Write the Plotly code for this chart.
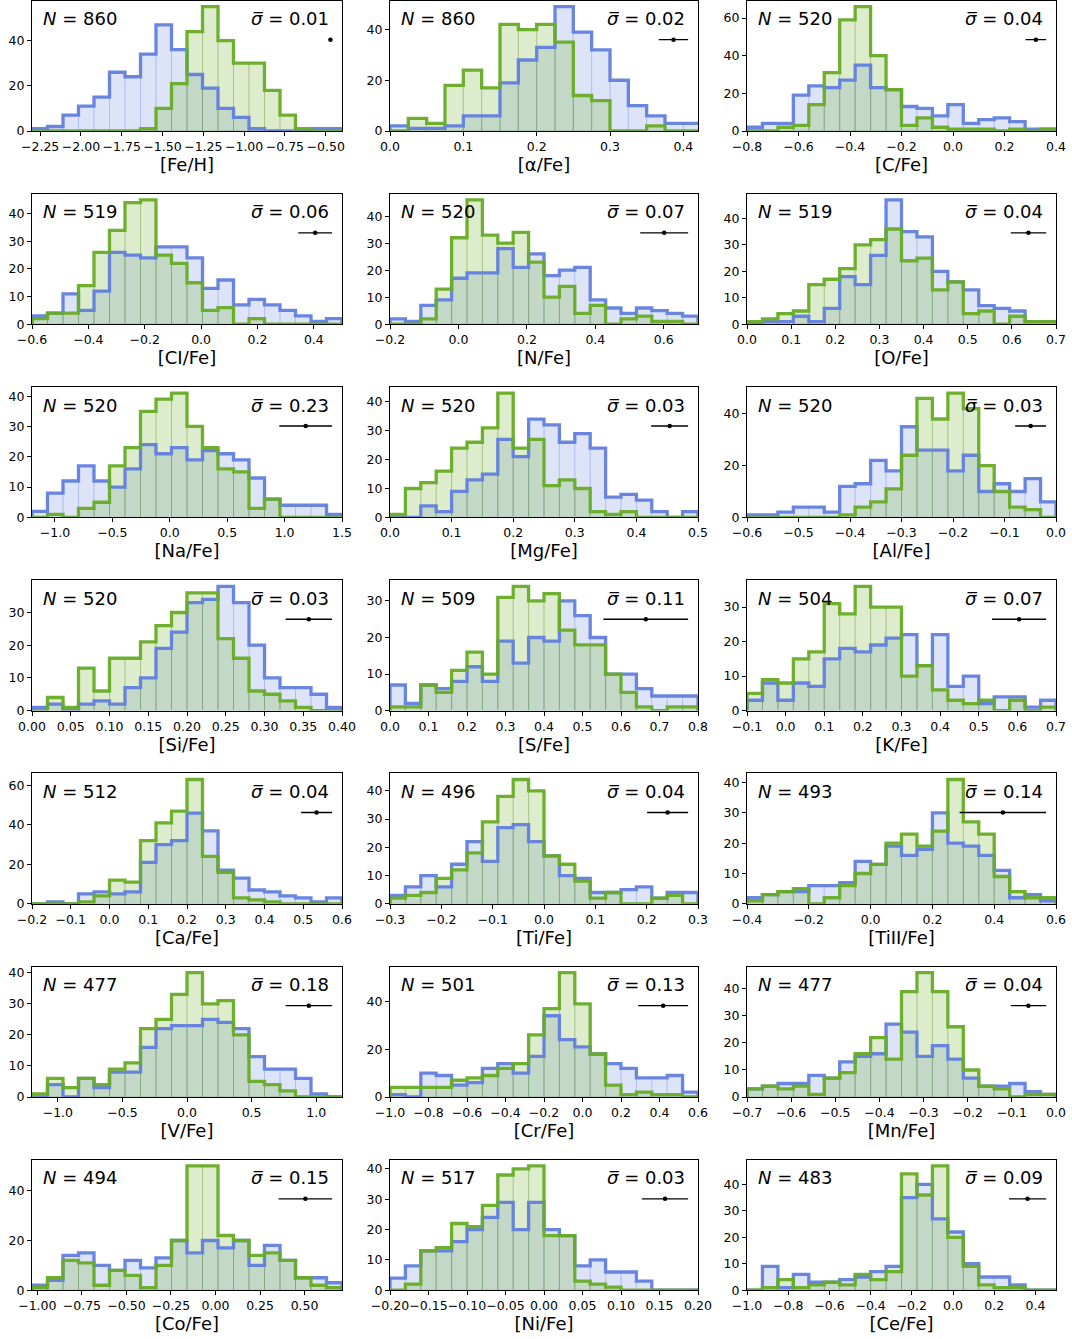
import plotly.graph_objects as go

# ---------------- data (counts per bin) ----------------
feh_blue = [1, 2, 7, 11, 15, 26, 24, 34, 47, 36, 25, 19, 10, 6, 1, 0, 0, 0, 1, 1]
feh_green = [0, 0, 0, 0, 0, 0, 0, 1, 10, 21, 44, 55, 40, 30, 30, 18, 7, 1, 0, 0]
alpha_blue = [2, 1, 1, 2, 6, 6, 19, 28, 33, 49, 39, 32, 20, 10, 6, 3, 3]
alpha_green = [0, 5, 3, 18, 24, 17, 42, 40, 42, 35, 14, 12, 0, 0, 2, 0, 0]
c_blue = [2, 4, 4, 19, 24, 23, 27, 35, 23, 22, 13, 12, 8, 14, 4, 6, 7, 5, 1, 1]
c_green = [0, 0, 2, 3, 14, 31, 59, 66, 40, 22, 3, 7, 2, 1, 1, 1, 0, 1, 0, 1]
ci_blue = [3, 4, 11, 5, 12, 26, 25, 24, 28, 28, 24, 13, 16, 7, 9, 7, 5, 3, 1, 2]
ci_green = [2, 4, 4, 14, 26, 34, 44, 45, 25, 22, 15, 5, 6, 0, 2, 0, 0, 0, 0, 0]
n_blue = [2, 1, 7, 9, 17, 19, 19, 28, 21, 26, 18, 20, 21, 9, 6, 4, 6, 5, 4, 3]
n_green = [0, 0, 2, 13, 32, 46, 33, 30, 34, 23, 10, 14, 4, 7, 0, 2, 3, 1, 1, 0]
o_blue = [0, 1, 1, 3, 1, 6, 18, 15, 26, 47, 35, 33, 20, 16, 13, 7, 6, 5, 1, 1]
o_green = [1, 2, 4, 5, 15, 17, 21, 30, 32, 36, 24, 25, 13, 16, 4, 5, 0, 3, 1, 1]
na_blue = [2, 8, 12, 17, 12, 10, 16, 24, 21, 23, 19, 22, 21, 19, 13, 6, 4, 4, 4, 1]
na_green = [0, 1, 0, 3, 5, 17, 23, 35, 39, 41, 30, 23, 16, 15, 3, 6, 0, 0, 0, 0]
mg_blue = [0, 0, 4, 2, 9, 13, 15, 27, 21, 34, 32, 26, 29, 24, 7, 8, 6, 2, 0, 2]
mg_green = [1, 10, 12, 16, 24, 26, 31, 43, 24, 27, 11, 13, 10, 2, 1, 2, 0, 0, 0, 0]
al_blue = [1, 1, 2, 4, 4, 2, 12, 13, 22, 18, 35, 26, 26, 18, 24, 10, 13, 10, 15, 6]
al_green = [0, 0, 0, 0, 0, 0, 1, 4, 6, 11, 24, 46, 38, 48, 42, 20, 10, 4, 3, 0]
si_blue = [1, 2, 0, 2, 3, 2, 7, 10, 19, 24, 33, 34, 38, 33, 20, 10, 7, 7, 5, 1]
si_green = [0, 4, 1, 13, 6, 16, 16, 21, 26, 30, 36, 36, 22, 16, 6, 5, 3, 1, 0, 0]
s_blue = [7, 2, 7, 6, 8, 12, 8, 19, 13, 20, 19, 30, 26, 20, 10, 10, 6, 4, 4, 4]
s_green = [1, 1, 7, 5, 11, 16, 10, 31, 34, 30, 32, 22, 18, 18, 10, 5, 1, 0, 1, 1]
k_blue = [3, 8, 3, 8, 7, 15, 18, 17, 19, 21, 22, 13, 22, 7, 10, 2, 4, 4, 1, 3]
k_green = [5, 9, 8, 15, 17, 31, 28, 36, 30, 30, 10, 13, 6, 3, 2, 3, 0, 3, 0, 1]
ca_blue = [0, 1, 0, 5, 6, 5, 6, 21, 30, 32, 46, 37, 17, 13, 7, 6, 4, 3, 1, 3]
ca_green = [0, 0, 0, 1, 4, 12, 11, 32, 41, 47, 63, 24, 16, 3, 2, 1, 0, 0, 0, 0]
ti_blue = [3, 6, 10, 6, 14, 22, 15, 27, 28, 22, 17, 10, 9, 4, 4, 5, 6, 2, 4, 4]
ti_green = [2, 3, 4, 9, 12, 18, 29, 38, 44, 40, 17, 14, 8, 2, 4, 0, 0, 2, 3, 0]
tii_blue = [2, 3, 4, 4, 6, 6, 7, 14, 13, 19, 16, 18, 30, 20, 19, 16, 11, 2, 3, 1]
tii_green = [1, 3, 4, 5, 0, 2, 6, 10, 13, 20, 23, 19, 24, 41, 27, 23, 9, 4, 2, 2]
v_blue = [0, 4, 0, 6, 3, 8, 8, 16, 22, 23, 23, 25, 24, 22, 13, 9, 9, 6, 1, 0]
v_green = [1, 6, 3, 6, 4, 9, 11, 22, 25, 33, 40, 30, 31, 20, 5, 4, 2, 0, 0, 0]
cr_blue = [1, 0, 10, 9, 5, 6, 12, 14, 10, 17, 34, 24, 21, 18, 14, 12, 8, 8, 9, 2]
cr_green = [4, 4, 4, 4, 7, 8, 9, 12, 14, 26, 37, 52, 39, 18, 5, 1, 2, 1, 1, 0]
mn_blue = [3, 4, 5, 5, 8, 7, 13, 15, 16, 27, 24, 15, 19, 14, 7, 4, 4, 5, 2, 1]
mn_green = [3, 4, 3, 4, 1, 7, 9, 16, 22, 14, 39, 46, 39, 26, 10, 4, 3, 0, 1, 1]
co_blue = [2, 4, 14, 15, 10, 8, 12, 9, 13, 20, 15, 20, 17, 20, 10, 18, 12, 5, 5, 3]
co_green = [1, 5, 12, 11, 2, 8, 6, 1, 10, 20, 50, 50, 22, 20, 14, 15, 12, 5, 2, 1]
ni_blue = [4, 8, 13, 13, 16, 20, 24, 29, 20, 29, 20, 18, 8, 10, 6, 6, 3, 0, 0, 0]
ni_green = [0, 2, 13, 14, 22, 21, 28, 38, 40, 41, 18, 18, 3, 2, 1, 0, 0, 0, 0, 0]
ce_blue = [0, 9, 1, 6, 3, 3, 4, 5, 7, 9, 35, 40, 27, 22, 10, 5, 5, 2, 0, 0]
ce_green = [0, 1, 4, 1, 2, 3, 2, 6, 4, 7, 44, 36, 47, 20, 9, 2, 1, 1, 0, 0]

labels = ["[Fe/H]", "[α/Fe]", "[C/Fe]", "[CI/Fe]", "[N/Fe]", "[O/Fe]",
          "[Na/Fe]", "[Mg/Fe]", "[Al/Fe]", "[Si/Fe]", "[S/Fe]", "[K/Fe]",
          "[Ca/Fe]", "[Ti/Fe]", "[TiII/Fe]", "[V/Fe]", "[Cr/Fe]", "[Mn/Fe]",
          "[Co/Fe]", "[Ni/Fe]", "[Ce/Fe]"]
n_stars = [860, 860, 520, 519, 520, 519, 520, 520, 520, 520, 509, 504,
           512, 496, 493, 477, 501, 477, 494, 517, 483]
sigma_mean = [0.01, 0.02, 0.04, 0.06, 0.07, 0.04, 0.23, 0.03, 0.03, 0.03, 0.11, 0.07,
              0.04, 0.04, 0.14, 0.18, 0.13, 0.04, 0.15, 0.03, 0.09]
x_lo = [-2.3, 0.0, -0.8, -0.6, -0.2, 0.0, -1.2, 0.0, -0.6, 0.0, 0.0, -0.1,
        -0.2, -0.3, -0.4, -1.2, -1.0, -0.7, -1.03, -0.2, -1.0]
x_hi = [-0.4, 0.42, 0.4, 0.5, 0.7, 0.7, 1.5, 0.5, 0.0, 0.4, 0.8, 0.7,
        0.6, 0.3, 0.6, 1.2, 0.6, 0.0, 0.71, 0.2, 0.5]
bin_width = [None, 0.025, None, None, None, None, None, None, None, None, None, None,
             None, None, None, None, None, None, None, None, None]
tick_first = [-2.25, 0.0, -0.8, -0.6, -0.2, 0.0, -1.0, 0.0, -0.6, 0.0, 0.0, -0.1,
              -0.2, -0.3, -0.4, -1.0, -1.0, -0.7, -1.0, -0.2, -1.0]
tick_last = [-0.5, 0.4, 0.4, 0.4, 0.6, 0.7, 1.5, 0.5, 0.0, 0.4, 0.8, 0.7,
             0.6, 0.3, 0.6, 1.0, 0.6, 0.0, 0.5, 0.2, 0.4]
tick_step = [0.25, 0.1, 0.2, 0.2, 0.2, 0.1, 0.5, 0.1, 0.1, 0.05, 0.1, 0.1,
             0.1, 0.1, 0.2, 0.5, 0.2, 0.1, 0.25, 0.05, 0.2]
tick_fmt = [".2f", ".1f", ".1f", ".1f", ".1f", ".1f", ".1f", ".1f", ".1f", ".2f", ".1f", ".1f",
            ".1f", ".1f", ".1f", ".1f", ".1f", ".1f", ".2f", ".2f", ".1f"]
y_step = [20, 20, 20, 10, 10, 10, 10, 10, 20, 10, 10, 10,
          20, 10, 10, 10, 20, 10, 20, 10, 10]
blue_series = [feh_blue, alpha_blue, c_blue, ci_blue, n_blue, o_blue, na_blue, mg_blue, al_blue,
               si_blue, s_blue, k_blue, ca_blue, ti_blue, tii_blue, v_blue, cr_blue, mn_blue,
               co_blue, ni_blue, ce_blue]
green_series = [feh_green, alpha_green, c_green, ci_green, n_green, o_green, na_green, mg_green,
                al_green, si_green, s_green, k_green, ca_green, ti_green, tii_green, v_green,
                cr_green, mn_green, co_green, ni_green, ce_green]

# ---------------- style ----------------
W, H = 1072, 1339
FONT = "DejaVu Sans"
BLUE_LINE = "rgba(98,128,222,0.95)"
BLUE_FILL = "rgba(100,130,225,0.22)"
BLUE_EDGE = "rgba(100,130,225,0.30)"
GREEN_LINE = "rgba(104,172,38,0.95)"
GREEN_FILL = "rgba(120,180,50,0.25)"
GREEN_EDGE = "rgba(90,150,40,0.35)"
col_px = [(32, 342), (390, 698), (747, 1056)]
row_top0, row_pitch, plot_h = 0.5, 193.2, 130.5

fig = go.Figure()
layout = dict(width=W, height=H, margin=dict(l=0, r=0, t=0, b=0, autoexpand=False),
              paper_bgcolor="white", plot_bgcolor="white", template="none",
              barmode="overlay", bargap=0, showlegend=False,
              font=dict(family=FONT, color="black"))
annotations = []


def step_xy(edges, counts):
    xs = [edges[0]] + list(edges[:-1]) + [edges[-1], edges[-1]]
    ys = [0] + list(counts) + [counts[-1], 0]
    return xs, ys


for i in range(21):
    r, c = divmod(i, 3)
    ax = "" if i == 0 else str(i + 1)
    xa, ya = "x" + ax, "y" + ax
    lo, hi = x_lo[i], x_hi[i]
    blue, green = blue_series[i], green_series[i]
    nb = len(blue)
    w = bin_width[i] if bin_width[i] else (hi - lo) / nb
    edges = [lo + w * k for k in range(nb + 1)]
    centers = [lo + w * (k + 0.5) for k in range(nb)]
    ymax = 1.05 * max(max(blue), max(green))

    for cnt, fill, edge in ((blue, BLUE_FILL, BLUE_EDGE), (green, GREEN_FILL, GREEN_EDGE)):
        fig.add_trace(go.Bar(x=centers, y=cnt, width=w, xaxis=xa, yaxis=ya,
                             marker=dict(color=fill, line=dict(color=edge, width=0.7)),
                             hoverinfo="skip"))
    for cnt, col in ((blue, BLUE_LINE), (green, GREEN_LINE)):
        sx, sy = step_xy(edges, cnt)
        fig.add_trace(go.Scatter(x=sx, y=sy, mode="lines", line_shape="hv",
                                 line=dict(color=col, width=3.3), xaxis=xa, yaxis=ya,
                                 hoverinfo="skip"))
    # mean uncertainty bar
    sig = sigma_mean[i]
    cx = hi - 0.032 * (hi - lo) - sig
    fig.add_trace(go.Scatter(x=[cx], y=[0.70 * ymax], mode="markers", xaxis=xa, yaxis=ya,
                             marker=dict(color="black", size=4.5),
                             error_x=dict(type="data", array=[sig], color="black",
                                          thickness=1.4, width=0),
                             hoverinfo="skip"))

    x0p, x1p = col_px[c]
    top = row_top0 + row_pitch * r
    nt = int(round((tick_last[i] - tick_first[i]) / tick_step[i]))
    tv = [tick_first[i] + tick_step[i] * k for k in range(nt + 1)]
    layout["xaxis" + ax] = dict(domain=[x0p / W, x1p / W], anchor=ya, range=[lo, hi],
                                automargin=False, tickangle=0,
                                showline=True, mirror=True, linecolor="black", linewidth=1,
                                ticks="outside", ticklen=4, tickwidth=1, tickcolor="black",
                                tickvals=tv, tickformat=tick_fmt[i],
                                tickfont=dict(size=12.5, family=FONT),
                                showgrid=False, zeroline=False,
                                title=dict(text=labels[i], font=dict(size=18, family=FONT),
                                           standoff=2))
    layout["yaxis" + ax] = dict(domain=[1 - (top + plot_h) / H, 1 - top / H], anchor=xa,
                                range=[0, ymax], automargin=False,
                                showline=True, mirror=True, linecolor="black",
                                linewidth=1, ticks="outside", ticklen=4, tickwidth=1,
                                tickcolor="black", tick0=0, dtick=y_step[i],
                                tickfont=dict(size=12.5, family=FONT),
                                showgrid=False, zeroline=False)
    annotations.append(dict(xref=xa + " domain", yref=ya + " domain", x=0.03, y=0.86,
                            xanchor="left", yanchor="middle", showarrow=False,
                            text="<i>N</i> = %d" % n_stars[i],
                            font=dict(size=18, family=FONT, color="black")))
    annotations.append(dict(xref=xa + " domain", yref=ya + " domain", x=0.965, y=0.86,
                            xanchor="right", yanchor="middle", showarrow=False,
                            text="<i>σ\u0305</i> = %.2f" % sig,
                            font=dict(size=18, family=FONT, color="black")))

layout["annotations"] = annotations
fig.update_layout(**layout)
fig.write_html("out.html",
               config={"displayModeBar": False, "staticPlot": True},
               post_script="document.body.style.margin='0px';"
                           "document.body.style.overflow='hidden';")
